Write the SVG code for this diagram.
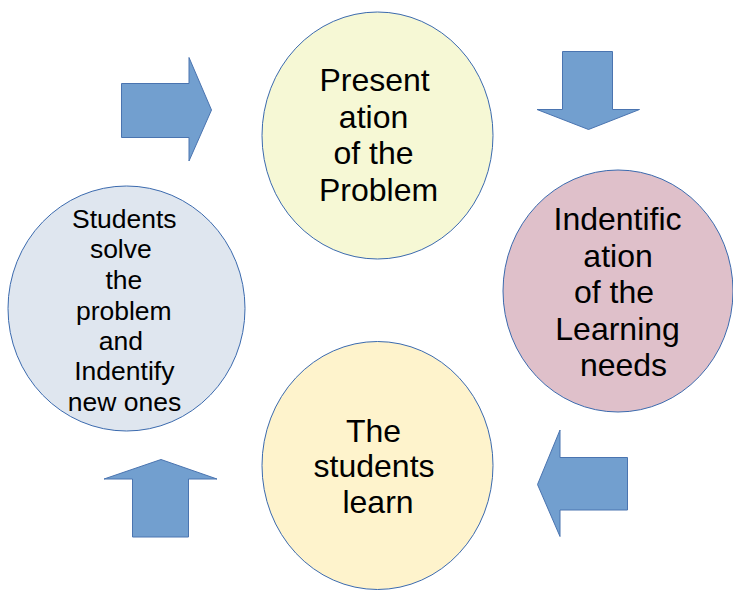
<svg xmlns="http://www.w3.org/2000/svg" width="733" height="592" viewBox="0 0 733 592">
  <style>
    .node { stroke: #3b6aae; stroke-width: 1; }
    .arrow { fill: #729fcf; stroke: #4a74b0; stroke-width: 1; stroke-linejoin: miter; }
    .label { font-family: "Liberation Sans", Arial, sans-serif; fill: #000; text-anchor: middle; }
    .big { font-size: 32px; }
    .small { font-size: 26.5px; }
  </style>
  <rect width="733" height="592" fill="#ffffff"/>

  <g id="connectors">
    <!-- right-pointing block arrow, top left -->
    <polygon class="arrow" points="121.5,83.5 189,83.5 189,57.5 211.5,110 189,161 189,137.5 121.5,137.5"/>
    <!-- down-pointing block arrow, top right -->
    <polygon class="arrow" points="562.5,51.5 612.5,51.5 612.5,109.5 639.5,109.5 588.5,129.5 537,109.5 562.5,109.5"/>
    <!-- left-pointing block arrow, bottom right -->
    <polygon class="arrow" points="627.5,457.5 627.5,510 560,510 560,536.5 537.5,484.5 560,430 560,457.5"/>
    <!-- up-pointing block arrow, bottom left -->
    <polygon class="arrow" points="132.5,537 188.5,537 188.5,479 217,479 161,459.5 104,479 132.5,479"/>
  </g>

  <g id="presentation">
    <ellipse class="node" cx="377.5" cy="135.5" rx="115.5" ry="123.5" fill="#f6f8d5"/>
    <text class="label big">
      <tspan x="379" y="91">Present</tspan>
      <tspan x="378" y="128">ation</tspan>
      <tspan x="378" y="164">of the</tspan>
      <tspan x="378.5" y="201">Problem</tspan>
    </text>
  </g>

  <g id="identification">
    <ellipse class="node" cx="618" cy="291" rx="115" ry="121" fill="#dfc0ca"/>
    <text class="label big">
      <tspan x="622" y="230">Indentific</tspan>
      <tspan x="622.5" y="267">ation</tspan>
      <tspan x="618.5" y="303">of the</tspan>
      <tspan x="622" y="340">Learning</tspan>
      <tspan x="623.5" y="376">needs</tspan>
    </text>
  </g>

  <g id="learn">
    <ellipse class="node" cx="377.5" cy="465.5" rx="115.5" ry="124" fill="#fef3cc"/>
    <text class="label big">
      <tspan x="378" y="442">The</tspan>
      <tspan x="378.5" y="477">students</tspan>
      <tspan x="378" y="513">learn</tspan>
    </text>
  </g>

  <g id="solve">
    <ellipse class="node" cx="126.5" cy="308.5" rx="118.5" ry="122.5" fill="#dfe6ef"/>
    <text class="label small">
      <tspan x="128" y="228">Students</tspan>
      <tspan x="124.5" y="258">solve</tspan>
      <tspan x="127.5" y="289">the</tspan>
      <tspan x="127.5" y="319.5">problem</tspan>
      <tspan x="124.5" y="349.5">and</tspan>
      <tspan x="128" y="380">Indentify</tspan>
      <tspan x="124.5" y="410.5">new ones</tspan>
    </text>
  </g>
</svg>
